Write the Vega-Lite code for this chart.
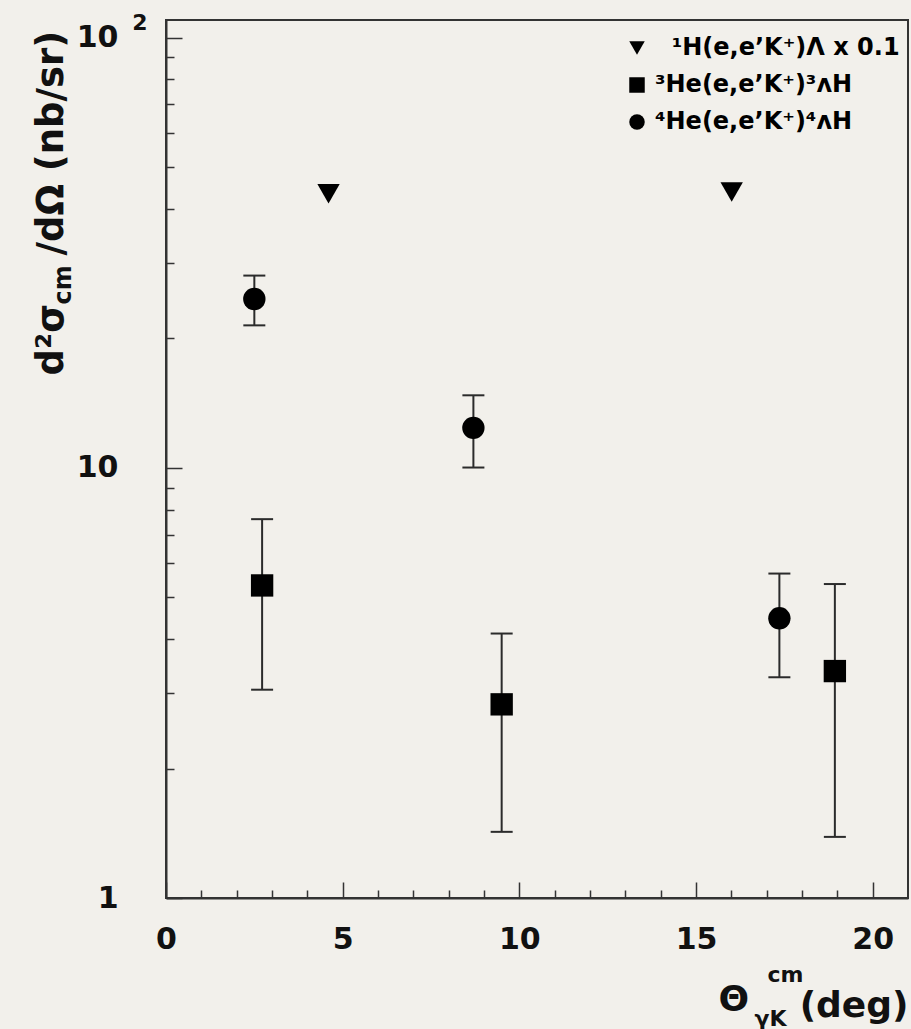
{
  "$schema": "https://vega.github.io/schema/vega-lite/v6.json",
  "width": 742,
  "height": 878,
  "autosize": {"type": "none"},
  "padding": {"left": 166, "top": 20, "right": 3, "bottom": 131},
  "background": "#f2f0eb",
  "config": {
    "view": {"stroke": "#333333", "strokeWidth": 2},
    "axis": {"grid": false, "labelFlush": false}
  },
  "data": {
    "values": [
      {"series": "H", "x": 4.6, "y": 43.4},
      {"series": "H", "x": 16.01, "y": 43.8},
      {"series": "He3", "x": 2.72, "y": 5.33, "lo": 3.05, "hi": 7.6},
      {"series": "He3", "x": 9.5, "y": 2.82, "lo": 1.425, "hi": 4.12},
      {"series": "He3", "x": 18.93, "y": 3.37, "lo": 1.387, "hi": 5.37},
      {"series": "He4", "x": 2.5, "y": 24.7, "lo": 21.45, "hi": 28.0},
      {"series": "He4", "x": 8.7, "y": 12.39, "lo": 10.02, "hi": 14.75},
      {"series": "He4", "x": 17.36, "y": 4.47, "lo": 3.26, "hi": 5.68}
    ]
  },
  "layer": [
    {
      "transform": [{"filter": "isValid(datum.lo)"}],
      "mark": {"type": "rule", "color": "#2b2b2b", "strokeWidth": 2},
      "encoding": {
        "x": {
          "field": "x", "type": "quantitative",
          "scale": {"domain": [0, 21], "nice": false, "zero": false},
          "axis": {
            "orient": "bottom",
            "values": [0,1,2,3,4,5,6,7,8,9,10,11,12,13,14,15,16,17,18,19,20],
            "labels": false,
            "tickSize": {"condition": {"test": "datum.value % 5 === 0", "value": -16}, "value": -8},
            "tickColor": "#333333", "tickWidth": 1.5,
            "domain": true, "domainColor": "#333333", "domainWidth": 2,
            "title": "Θ", "titleX": 552, "titleY": 112, "titleAngle": 0,
            "titleAlign": "left", "titleBaseline": "alphabetic",
            "titleFont": "DejaVu Sans", "titleFontSize": 36, "titleFontWeight": "bold", "titleColor": "#111111"
          }
        },
        "y": {
          "field": "lo", "type": "quantitative",
          "scale": {"type": "log", "domain": [1, 110], "nice": false},
          "axis": {
            "orient": "left",
            "values": [1,2,3,4,5,6,7,8,9,10,20,30,40,50,60,70,80,90,100],
            "labels": false,
            "tickSize": {"condition": {"test": "datum.value === 10 || datum.value === 100 || datum.value === 1", "value": -16}, "value": -8},
            "tickColor": "#333333", "tickWidth": 1.5,
            "domain": true, "domainColor": "#333333", "domainWidth": 2,
            "title": "d²σ", "titleX": -104, "titleY": 355, "titleAngle": 270,
            "titleAlign": "left", "titleBaseline": "alphabetic",
            "titleFont": "DejaVu Sans", "titleFontSize": 37, "titleFontWeight": "bold", "titleColor": "#111111"
          }
        },
        "y2": {"field": "hi"}
      }
    },
    {
      "transform": [{"filter": "isValid(datum.lo)"}],
      "mark": {"type": "tick", "orient": "horizontal", "size": 22, "thickness": 2, "color": "#2b2b2b", "opacity": 1},
      "encoding": {
        "x": {
          "field": "x", "type": "quantitative",
          "scale": {"domain": [0, 21], "nice": false, "zero": false},
          "axis": {
            "orient": "bottom",
            "values": [0, 5, 10, 15, 20],
            "ticks": false, "domain": false,
            "labelPadding": 26,
            "labelFont": "DejaVu Sans", "labelFontSize": 30, "labelFontWeight": "bold", "labelColor": "#111111",
            "title": "cm", "titleX": 601, "titleY": 83, "titleAngle": 0,
            "titleAlign": "left", "titleBaseline": "alphabetic",
            "titleFont": "DejaVu Sans", "titleFontSize": 22, "titleFontWeight": "bold", "titleColor": "#111111"
          }
        },
        "y": {
          "field": "lo", "type": "quantitative",
          "scale": {"type": "log", "domain": [1, 110], "nice": false},
          "axis": {
            "orient": "left",
            "values": [1, 10, 100],
            "labelExpr": "datum.value >= 10 ? '10' : '1'",
            "ticks": false, "domain": false,
            "labelPadding": 48,
            "labelFont": "DejaVu Sans", "labelFontSize": 30, "labelFontWeight": "bold", "labelColor": "#111111",
            "title": "cm", "titleX": -96, "titleY": 284, "titleAngle": 270,
            "titleAlign": "left", "titleBaseline": "alphabetic",
            "titleFont": "DejaVu Sans", "titleFontSize": 24, "titleFontWeight": "bold", "titleColor": "#111111"
          }
        }
      }
    },
    {
      "transform": [{"filter": "isValid(datum.lo)"}],
      "mark": {"type": "tick", "orient": "horizontal", "size": 22, "thickness": 2, "color": "#2b2b2b", "opacity": 1},
      "encoding": {
        "x": {
          "field": "x", "type": "quantitative",
          "scale": {"domain": [0, 21], "nice": false, "zero": false},
          "axis": {
            "orient": "bottom",
            "values": [0],
            "labels": false, "ticks": false, "domain": false,
            "title": "γK", "titleX": 588, "titleY": 127, "titleAngle": 0,
            "titleAlign": "left", "titleBaseline": "alphabetic",
            "titleFont": "DejaVu Sans", "titleFontSize": 22, "titleFontWeight": "bold", "titleColor": "#111111"
          }
        },
        "y": {
          "field": "hi", "type": "quantitative",
          "scale": {"type": "log", "domain": [1, 110], "nice": false},
          "axis": {
            "orient": "left",
            "values": [100],
            "labelExpr": "'2'",
            "ticks": false, "domain": false,
            "labelPadding": 19, "labelOffset": -15,
            "labelFont": "DejaVu Sans", "labelFontSize": 22, "labelFontWeight": "bold", "labelColor": "#111111",
            "title": "/dΩ (nb/sr)", "titleX": -104, "titleY": 235, "titleAngle": 270,
            "titleAlign": "left", "titleBaseline": "alphabetic",
            "titleFont": "DejaVu Sans", "titleFontSize": 37, "titleFontWeight": "bold", "titleColor": "#111111"
          }
        }
      }
    },
    {
      "mark": {"type": "point", "filled": true, "size": 500, "opacity": 1, "color": "#000000"},
      "encoding": {
        "x": {
          "field": "x", "type": "quantitative",
          "scale": {"domain": [0, 21], "nice": false, "zero": false},
          "axis": {
            "orient": "bottom",
            "values": [0],
            "labels": false, "ticks": false, "domain": false,
            "title": "(deg)", "titleX": 742, "titleY": 118, "titleAngle": 0,
            "titleAlign": "right", "titleBaseline": "alphabetic",
            "titleFont": "DejaVu Sans", "titleFontSize": 36, "titleFontWeight": "bold", "titleColor": "#111111"
          }
        },
        "y": {
          "field": "y", "type": "quantitative",
          "scale": {"type": "log", "domain": [1, 110], "nice": false},
          "axis": null
        },
        "shape": {
          "field": "series", "type": "nominal",
          "scale": {"domain": ["H", "He3", "He4"], "range": ["triangle-down", "square", "circle"]},
          "legend": {
            "orient": "none", "legendX": 459, "legendY": 16,
            "title": null, "padding": 0,
            "symbolSize": 240, "symbolFillColor": "#000000", "symbolStrokeColor": "#000000",
            "symbolStrokeWidth": 0, "symbolOpacity": 1,
            "labelFont": "DejaVu Sans", "labelFontSize": 24, "labelFontWeight": "bold", "labelColor": "#000000",
            "labelOffset": 6, "rowPadding": 13, "labelLimit": 400,
            "labelExpr": "datum.value == 'H' ? '\u200b\u00a0\u00a0¹H(e,e’K⁺)Λ x 0.1' : datum.value == 'He3' ? '³He(e,e’K⁺)³ᴧH' : '⁴He(e,e’K⁺)⁴ᴧH'"
          }
        }
      }
    }
  ],
  "resolve": {"axis": {"x": "independent", "y": "independent"}}
}
